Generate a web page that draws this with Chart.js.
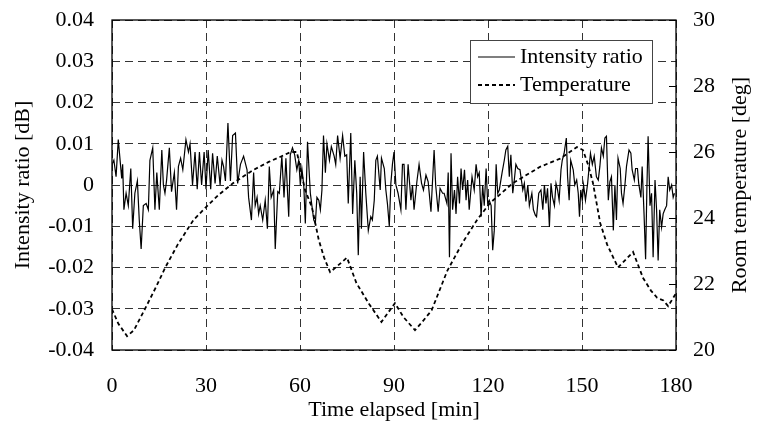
<!DOCTYPE html>
<html>
<head>
<meta charset="utf-8">
<script src="https://cdn.jsdelivr.net/npm/chart.js@4.4.0/dist/chart.umd.min.js"></script>
<style>
  html, body { margin: 0; padding: 0; background: #fff; }
</style>
</head>
<body>
<canvas id="myChart" width="762" height="428"></canvas>
<script>
// values

// intensity ratio [dB] against time [min]
const ratioTimes = [
  0.2, 0.6, 1.3, 2.0, 3.1, 3.4, 3.8, 4.5, 5.2, 6.0, 6.6, 7.3, 8.1, 8.7, 9.3, 10.0, 10.9, 11.6, 12.1, 13.0,
  13.7, 14.3, 15.1, 15.9, 16.4, 16.9, 17.4, 18.3, 19.0, 19.9, 20.6, 21.2, 21.9, 22.6, 23.6, 24.4, 24.9, 25.7, 26.5, 27.2,
  27.9, 28.6, 29.4, 30.0, 30.7, 31.5, 32.1, 32.9, 33.6, 34.5, 35.1, 35.6, 36.2, 37.0, 37.8, 38.5, 39.4, 40.1, 41.0, 42.0,
  43.1, 43.6, 44.5, 45.2, 45.7, 46.3, 46.8, 47.3, 48.1, 48.9, 49.6, 50.2, 50.8, 51.6, 52.1, 52.9, 53.4, 54.2, 54.9, 55.5,
  56.4, 56.9, 57.6, 58.3, 59.0, 59.6, 60.1, 60.6, 61.2, 61.7, 62.4, 63.3, 63.8, 64.4, 64.9, 65.4, 66.0, 66.5, 67.0, 67.5,
  68.1, 68.6, 69.4, 70.0, 70.9, 71.4, 72.0, 72.8, 73.6, 74.3, 74.9, 75.4, 76.2, 76.8, 77.5, 78.1, 78.6, 79.2, 79.6, 80.3,
  81.0, 81.8, 82.6, 83.1, 83.7, 84.2, 84.7, 85.6, 86.0, 86.9, 87.4, 87.9, 88.5, 89.0, 89.5, 90.0, 90.6, 91.3, 92.2, 92.7,
  93.2, 93.8, 94.5, 95.4, 95.9, 96.4, 97.3, 98.0, 98.8, 99.4, 100.2, 100.9, 101.8, 102.8, 103.3, 104.1, 104.7, 105.5, 106.0, 106.9,
  107.3, 107.7, 108.2, 108.7, 109.3, 109.8, 110.3, 110.9, 111.4, 111.9, 112.5, 113.0, 113.5, 114.0, 114.9, 115.6, 116.2, 116.7, 117.2, 117.8,
  118.3, 118.8, 119.4, 119.9, 120.4, 121.0, 121.5, 122.0, 122.6, 123.1, 123.6, 124.5, 125.2, 125.7, 126.3, 126.8, 127.3, 127.9, 128.4, 128.9,
  129.5, 130.2, 131.1, 131.6, 132.1, 132.7, 133.2, 134.0, 134.5, 135.1, 135.5, 136.2, 136.9, 137.5, 138.0, 138.5, 139.0, 139.6, 140.1, 140.6,
  141.2, 141.7, 142.2, 142.7, 143.3, 143.7, 144.3, 145.0, 145.4, 145.9, 146.4, 147.2, 147.7, 148.3, 148.8, 149.2, 149.6, 150.1, 150.5, 151.1,
  151.8, 152.2, 152.7, 153.3, 153.9, 154.6, 155.2, 155.7, 156.2, 156.8, 157.3, 157.8, 158.4, 158.9, 159.4, 160.0, 160.5, 161.0, 161.5, 162.2,
  162.6, 163.1, 163.7, 164.2, 165.0, 165.6, 166.0, 166.7, 167.1, 167.7, 168.1, 168.8, 169.2, 169.8, 170.3, 170.7, 171.1, 171.7, 172.2, 172.7,
  173.3, 173.8, 174.3, 174.8, 175.4, 175.9, 176.4, 177.0, 177.5, 178.0, 178.6, 179.1, 179.5
];
const ratioValues = [
  0.0053, 0.006, 0.002, 0.011, 0.0016, 0.005, -0.006, -0.002, -0.005, 0.004, -0.0106, -0.002, 0.001, -0.0085, -0.0155, -0.005, -0.0045, -0.006, 0.006, 0.009,
  -0.006, 0.003, -0.006, 0.0085, 0, -0.002, 0.001, 0.009, -0.0016, 0.003, -0.006, 0.0045, 0.0065, 0.0037, 0.011, 0.008, 0.010, 0, 0.008, -0.001,
  0.008, 0, 0.008, -0.001, 0.0085, -0.001, 0.0077, 0.0004, 0.007, 0, 0.006, 0.0045, 0.001, 0.015, 0.001, 0.012, 0.0126, 0.0004, 0.005, 0.007,
  0.0037, -0.003, -0.0085, 0.003, -0.005, -0.003, -0.007, -0.005, -0.0085, -0.0037, -0.0106, 0.0045, -0.003, -0.0012, -0.0155, -0.0016, -0.002, 0.007, -0.003, 0.0065,
  -0.0077, 0.0073, 0.009, 0.0073, 0.0037, 0.006, 0, 0.004, 0, -0.0093, 0.0105, -0.002, -0.005, -0.0085, -0.0093, -0.003, -0.0037, -0.006, -0.0012, 0.012,
  0.003, 0.010, 0.006, 0.0093, 0.007, 0.005, 0.012, 0.0065, 0.012, 0.007, 0.0073, -0.0045, 0.0126, -0.007, 0.006, -0.002, -0.017, 0.002, -0.0106, 0.008,
  -0.002, -0.011, -0.0077, -0.0085, -0.0037, 0.006, 0.007, -0.0012, 0.0065, 0.004, -0.0012, -0.0045, -0.010, 0.0004, 0.005, 0.008, 0, -0.002, -0.006, 0.005,
  0.005, -0.006, 0.005, -0.0037, 0, -0.006, 0.0008, 0.005, 0.0004, -0.0012, 0.0024, 0.0008, -0.0065, 0.0085, 0, -0.0065, -0.0008, -0.002, -0.002, -0.0045,
  0.003, -0.0175, 0.0077, -0.006, -0.0012, -0.007, 0.002, -0.0045, 0.004, -0.0012, 0.0037, -0.0037, 0.0012, -0.006, 0.002, -0.0012, 0.005, 0.002, 0.003, -0.0077,
  0, -0.005, 0.004, -0.0045, -0.0037, -0.005, -0.0158, -0.011, 0.005, -0.002, -0.0012, 0.003, 0.006, 0.0085, 0.0094, 0.002, 0.0073, -0.002, 0.0012, 0.005,
  0.004, 0.0037, -0.0012, 0.0004, -0.004, 0, -0.005, -0.002, -0.006, -0.0073, -0.0077, -0.002, -0.0012, -0.006, 0, -0.0045, -0.0008, -0.0102, 0.0004, -0.003,
  -0.005, 0.0004, -0.0012, -0.0037, 0.0037, 0.006, 0.0077, 0.0114, 0.002, -0.0037, 0.006, 0.0037, 0, 0.0012, -0.002, -0.0077, -0.0012, -0.0037, 0, -0.0037,
  0.0004, 0.0037, 0.0077, 0.005, 0.007, 0.002, 0.0012, 0.0045, 0.009, 0.007, 0.0114, 0.0118, -0.0037, 0.0008, 0.002, -0.011, 0, -0.0085, 0.0065, 0.004,
  -0.002, -0.0045, 0, 0.0045, 0.0085, 0.0077, 0.0037, 0.0012, 0.004, 0.004, 0.0004, -0.003, 0.0045, -0.007, -0.018, -0.0012, 0.0118, -0.005, -0.002, -0.0175,
  0.0012, -0.006, -0.0183, -0.006, -0.0102, -0.007, -0.006, -0.005, 0.002, -0.0012, 0, -0.003, -0.002
];

// room temperature [deg] against time [min]
const tempTimes = [
  0, 2, 4.8, 7, 10.5, 14, 17, 21, 26, 30, 34, 38.7, 45, 50, 53.6, 57, 59, 61.6, 63.8, 66,
  67.7, 69.6, 72, 75, 78, 82, 86, 90.3, 93, 96.7, 99, 102, 107, 112, 116.5, 120.6, 128, 136.6, 143, 148.4,
  150.3, 152, 153.5, 155.8, 158, 161.5, 166.3, 169.5, 172, 174, 176, 177.5, 179.7, 180
];
const tempValues = [
  21.24, 20.8, 20.42, 20.6, 21.24, 21.9, 22.5, 23.2, 23.94, 24.33, 24.7, 25.06, 25.45, 25.7, 25.85, 26.0, 26.0, 24.85, 24.33, 23.33,
  22.8, 22.36, 22.55, 22.8, 22.03, 21.4, 20.85, 21.42, 21.0, 20.6, 20.85, 21.2, 22.4, 23.27, 23.94, 24.45, 25.06, 25.55, 25.8, 26.15,
  26.06, 25.6, 25.06, 23.85, 23.2, 22.5, 22.97, 22.18, 21.8, 21.58, 21.5, 21.33, 21.67, 21.7
];

// axes
const timeTicks = [0, 30, 60, 90, 120, 150, 180];
const ratioTicks = [-0.04, -0.03, -0.02, -0.01, 0, 0.01, 0.02, 0.03, 0.04];
const ratioTickLabels = ['-0.04', '-0.03', '-0.02', '-0.01', '0', '0.01', '0.02', '0.03', '0.04'];
const tempTicks = [20, 22, 24, 26, 28, 30];

const seriesNames = ['Intensity ratio', 'Temperature'];
const rightTitle = 'Room temperature [deg]';

const fontFamily = "'Liberation Serif', 'Times New Roman', serif";
Chart.defaults.font.family = fontFamily;
Chart.defaults.font.size = 22;
Chart.defaults.color = '#000';

const gridDash = [8, 5];

// frame, inner ticks and title of the right axis, legend box
const framePlugin = {
  id: 'frame',
  afterDraw(chart) {
    const ctx = chart.ctx;
    const a = chart.chartArea;
    const y2 = chart.scales.y2;
    ctx.save();
    ctx.strokeStyle = '#000';
    ctx.lineWidth = 1.3;
    ctx.setLineDash([]);
    ctx.strokeRect(a.left, a.top, a.right - a.left, a.bottom - a.top);

    ctx.lineWidth = 1;
    y2.ticks.forEach(t => {
      const y = Math.round(y2.getPixelForValue(t.value)) + 0.5;
      ctx.beginPath();
      ctx.moveTo(a.right - 7, y);
      ctx.lineTo(a.right, y);
      ctx.stroke();
    });

    // right axis title, reading upwards like the left one
    ctx.font = '22px ' + fontFamily;
    ctx.fillStyle = '#000';
    ctx.textAlign = 'center';
    ctx.textBaseline = 'middle';
    ctx.save();
    ctx.translate(740, (a.top + a.bottom) / 2);
    ctx.rotate(-Math.PI / 2);
    ctx.fillText(rightTitle, 0, 0);
    ctx.restore();

    // legend
    const bx = 470, by = 40, bw = 182, bh = 63;
    ctx.fillStyle = '#fff';
    ctx.fillRect(bx, by, bw, bh);
    ctx.lineWidth = 1;
    ctx.strokeStyle = '#444';
    ctx.strokeRect(bx + 0.5, by + 0.5, bw, bh);

    ctx.fillStyle = '#000';
    ctx.textAlign = 'left';
    chart.data.datasets.forEach((ds, i) => {
      const y = by + 17 + i * 28;
      ctx.strokeStyle = ds.borderColor;
      ctx.lineWidth = ds.borderWidth;
      ctx.setLineDash(ds.borderDash || []);
      ctx.beginPath();
      ctx.moveTo(bx + 8, y);
      ctx.lineTo(bx + 45, y);
      ctx.stroke();
      ctx.setLineDash([]);
      ctx.fillText(ds.label, bx + 50, y);
    });
    ctx.restore();
  }
};

const noVerticalPad = s => {
  s.paddingTop = 0;
  s.paddingBottom = 0;
};

const myChart = document.getElementById('myChart');

let lineChart = new Chart(myChart, {
  type: 'line',
  data: {
    datasets: [
      {
        label: seriesNames[0],
        data: ratioTimes.map((t, i) => ({x: t, y: ratioValues[i]})),
        borderColor: '#000',
        borderWidth: 1.2,
        pointRadius: 0,
        tension: 0,
        yAxisID: 'y'
      },
      {
        label: seriesNames[1],
        data: tempTimes.map((t, i) => ({x: t, y: tempValues[i]})),
        borderColor: '#000',
        borderWidth: 1.8,
        borderDash: [4, 3],
        pointRadius: 0,
        tension: 0,
        yAxisID: 'y2'
      }
    ]
  },
  options: {
    responsive: false,
    animation: false,
    layout: { padding: { top: 20, left: 0, right: 0, bottom: 0 } },
    plugins: {
      legend: { display: false },
      tooltip: { enabled: false }
    },
    scales: {
      x: {
        type: 'linear',
        min: 0,
        max: 180,
        afterBuildTicks: s => { s.ticks = timeTicks.map(v => ({value: v})); },
        afterFit: s => { s.height = 78; s.paddingLeft = 0; s.paddingRight = 0; },
        ticks: { padding: 23, maxRotation: 0, callback: v => String(v) },
        grid: { color: '#333', lineWidth: 1, drawTicks: false },
        border: { display: false, dash: gridDash },
        title: { display: true, text: 'Time elapsed [min]', padding: { top: 0, bottom: 5 } }
      },
      y: {
        position: 'left',
        min: -0.04,
        max: 0.04,
        afterBuildTicks: s => { s.ticks = ratioTicks.map(v => ({value: v})); },
        afterFit: s => { s.width = 112; noVerticalPad(s); },
        ticks: {
          padding: 18,
          callback: (v, i) => ratioTickLabels[i]
        },
        grid: { color: '#333', lineWidth: 1, drawTicks: false },
        border: { display: false, dash: gridDash },
        title: { display: true, text: 'Intensity ratio [dB]', padding: { top: 10, bottom: 0 } }
      },
      y2: {
        position: 'right',
        min: 20,
        max: 30,
        afterBuildTicks: s => { s.ticks = tempTicks.map(v => ({value: v})); },
        afterFit: s => { s.width = 86; noVerticalPad(s); },
        ticks: { padding: 17, callback: v => String(v) },
        grid: { drawOnChartArea: false, drawTicks: false },
        border: { display: false }
      }
    }
  },
  plugins: [framePlugin]
});
</script>
</body>
</html>
